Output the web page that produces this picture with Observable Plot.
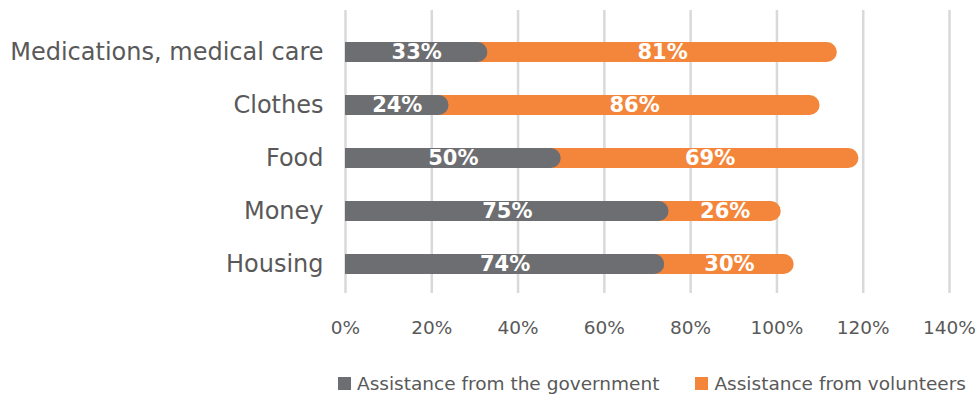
<!DOCTYPE html>
<html>
<head>
<meta charset="utf-8">
<script src="https://cdn.jsdelivr.net/npm/d3@7"></script>
<script src="https://cdn.jsdelivr.net/npm/@observablehq/plot@0.6"></script>
<style>
  html, body { margin: 0; padding: 0; background: #fff; }
  #wrap { position: relative; width: 979px; height: 397px; font-family: "DejaVu Sans", sans-serif; }
  #legend { position: absolute; top: 373px; left: 338px; display: flex; align-items: center; font-size: 18.5px; color: #595959; white-space: nowrap; }
  .sw { display: inline-block; width: 13px; height: 13px; margin-right: 6px; }
  .item { display: flex; align-items: center; margin-right: 36px; }
</style>
</head>
<body>
<div id="wrap"><div id="chart"></div><div id="legend"></div></div>
<script>
const categories = ["Medications, medical care", "Clothes", "Food", "Money", "Housing"];
const government = [33, 24, 50, 75, 74];
const volunteers = [81, 86, 69, 26, 30];
const xTicks = [0, 20, 40, 60, 80, 100, 120, 140];
const seriesNames = ["Assistance from the government", "Assistance from volunteers"];
const colors = ["#6d6e71", "#f4863c"];

const rows = categories.map((c, i) => ({category: c, gov: government[i], vol: volunteers[i]}));

const chart = Plot.plot({
  width: 979,
  height: 360,
  marginLeft: 345,
  marginRight: 30,
  marginTop: 10,
  marginBottom: 67,
  style: {fontFamily: "DejaVu Sans, sans-serif", color: "#595959", background: "white"},
  x: {domain: [0, 140], axis: null},
  y: {type: "band", domain: categories, range: [42, 275], paddingInner: 0.62, paddingOuter: 0, axis: null},
  marks: [
    Plot.gridX(xTicks, {stroke: "#d9d9d9", strokeWidth: 2.5, strokeOpacity: 1}),
    Plot.barX(rows, {x1: 0, x2: d => d.gov + d.vol, y: "category", fill: colors[1], rx: 10}),
    Plot.barX(rows, {x1: 0, x2: "gov", y: "category", fill: colors[0], rx: 10}),
    Plot.barX(rows, {x1: 0, x2: d => d.gov / 2, y: "category", fill: colors[0]}),
    Plot.text(rows, {x: d => d.gov / 2, y: "category", text: d => d.gov + "%", fill: "white", fontWeight: "bold", fontSize: 21}),
    Plot.text(rows, {x: d => d.gov + d.vol / 2, y: "category", text: d => d.vol + "%", fill: "white", fontWeight: "bold", fontSize: 21}),
    Plot.axisX(xTicks, {tickSize: 0, tickPadding: 27, fontSize: 18.5, tickFormat: d => d + "%", fill: "#595959", label: null}),
    Plot.axisY({tickSize: 0, tickPadding: 22, fontSize: 24, fill: "#595959", label: null})
  ]
});
document.getElementById("chart").appendChild(chart);

const legend = document.getElementById("legend");
seriesNames.forEach((name, i) => {
  const item = document.createElement("span");
  item.className = "item";
  const sw = document.createElement("span");
  sw.className = "sw";
  sw.style.background = colors[i];
  item.appendChild(sw);
  item.appendChild(document.createTextNode(name));
  legend.appendChild(item);
});
</script>
</body>
</html>
